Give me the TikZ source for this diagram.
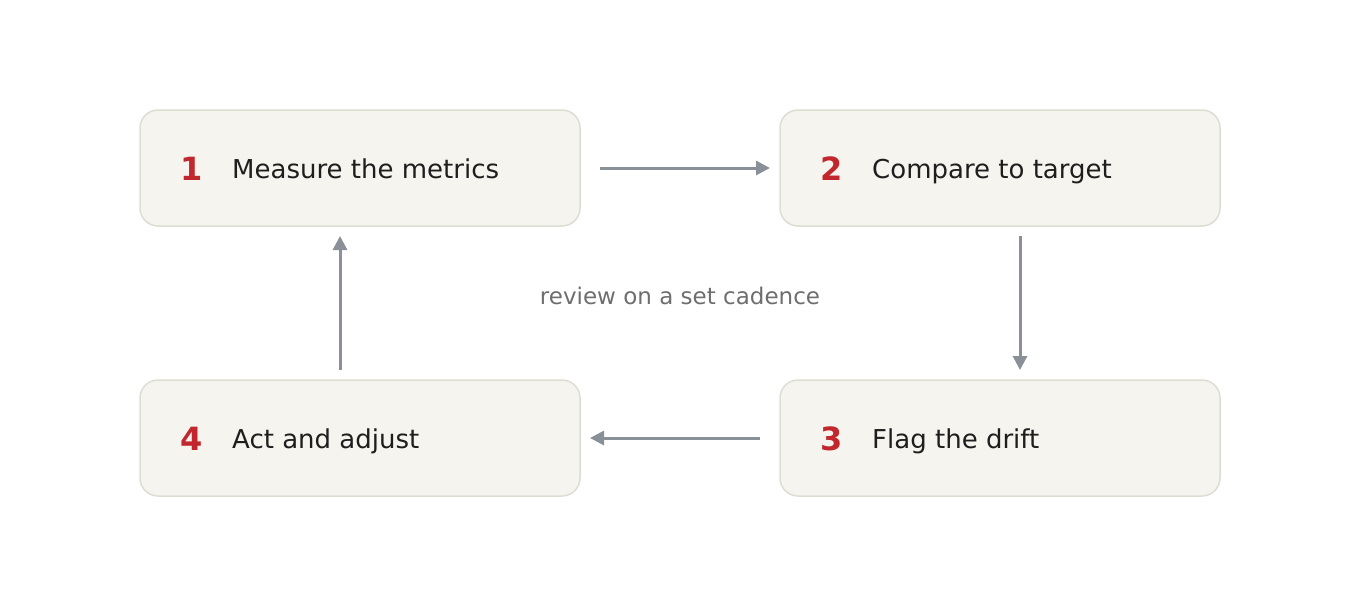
\documentclass[tikz,border=0pt]{standalone}
\usepackage{fontspec}
\setmainfont{DejaVu Sans}
\usetikzlibrary{positioning,arrows.meta}

\definecolor{boxfill}{HTML}{F5F4EF}
\definecolor{boxline}{HTML}{DEDDD3}
\definecolor{steprd}{HTML}{C1272D}
\definecolor{arrowgr}{HTML}{8A9098}
\definecolor{notegr}{HTML}{6E6E6E}
\definecolor{textbk}{HTML}{1E1E1E}

\tikzset{
  stagebox/.style={draw=boxline, line width=1.5pt, fill=boxfill, rounded corners=18pt,
    minimum width=440pt, minimum height=116pt, inner sep=0pt, outer sep=0pt},
  stagenum/.style={anchor=base west, text=steprd, font=\fontsize{32}{36}\selectfont\bfseries, inner sep=0pt},
  stagetxt/.style={anchor=base west, text=textbk, font=\fontsize{26}{30}\selectfont, inner sep=0pt},
  flow/.style={draw=arrowgr, line width=3pt, -{Triangle[length=14pt,width=14pt]}}
}

\begin{document}
\begin{tikzpicture}[x=1pt,y=-1pt]
	\useasboundingbox (0,0) rectangle (1360,600);
	% the four stages
	\node[stagebox] (m1) at (360,168) {};
	\node[stagebox, right=200pt of m1] (m2) {};
	\node[stagebox, below=154pt of m2] (m3) {};
	\node[stagebox, below=154pt of m1] (m4) {};
	\node[stagenum] (n1) at ([xshift=40pt,yshift=-12pt]m1.west) {1};
	\node[stagetxt] (t1) at ([xshift=92pt,yshift=-10pt]m1.west) {Measure the metrics};
	\node[stagenum] (n2) at ([xshift=40pt,yshift=-12pt]m2.west) {2};
	\node[stagetxt] (t2) at ([xshift=92pt,yshift=-10pt]m2.west) {Compare to target};
	\node[stagenum] (n3) at ([xshift=40pt,yshift=-12pt]m3.west) {3};
	\node[stagetxt] (t3) at ([xshift=92pt,yshift=-10pt]m3.west) {Flag the drift};
	\node[stagenum] (n4) at ([xshift=40pt,yshift=-12pt]m4.west) {4};
	\node[stagetxt] (t4) at ([xshift=92pt,yshift=-10pt]m4.west) {Act and adjust};
	% note in the middle
	\node[text=notegr, font=\fontsize{23}{26}\selectfont] (note) at (680,296) {review on a set cadence};
	% the loop
	\draw[flow] ([xshift=20pt]m1.east) -- ([xshift=-10pt]m2.west);
	\draw[flow] ([xshift=20pt,yshift=-10pt]m2.south) -- ([xshift=20pt,yshift=10pt]m3.north);
	\draw[flow] ([xshift=-20pt]m3.west) -- ([xshift=10pt]m4.east);
	\draw[flow] ([xshift=-20pt,yshift=10pt]m4.north) -- ([xshift=-20pt,yshift=-10pt]m1.south);
\end{tikzpicture}
\end{document}
